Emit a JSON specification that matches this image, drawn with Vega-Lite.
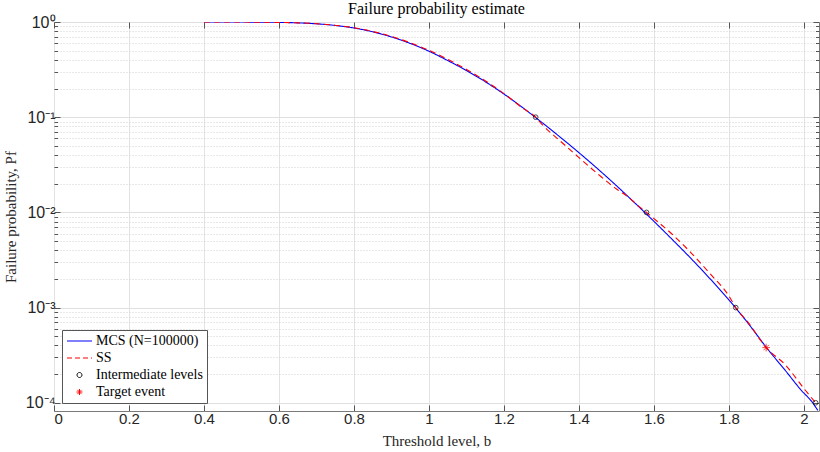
{
  "$schema": "https://vega.github.io/schema/vega-lite/v6.json",
  "width": 765,
  "height": 389,
  "autosize": {"type": "none"},
  "padding": {"left": 54, "top": 22, "right": 1, "bottom": 41},
  "background": "white",
  "title": {"text": "Failure probability estimate", "font": "Liberation Serif", "fontSize": 16, "fontWeight": "normal", "color": "#000000", "offset": -3, "anchor": "middle"},
  "config": {"view": {"stroke": "#7a7a7a", "strokeWidth": 1}},
  "datasets": {
    "curves": [
      {"series": "MCS (N=100000)", "b": 0.40, "P": 1.0},
      {"series": "MCS (N=100000)", "b": 0.45, "P": 0.99977},
      {"series": "MCS (N=100000)", "b": 0.50, "P": 0.99885},
      {"series": "MCS (N=100000)", "b": 0.55, "P": 0.99655},
      {"series": "MCS (N=100000)", "b": 0.60, "P": 0.99083},
      {"series": "MCS (N=100000)", "b": 0.65, "P": 0.97949},
      {"series": "MCS (N=100000)", "b": 0.70, "P": 0.95719},
      {"series": "MCS (N=100000)", "b": 0.75, "P": 0.92045},
      {"series": "MCS (N=100000)", "b": 0.80, "P": 0.86497},
      {"series": "MCS (N=100000)", "b": 0.85, "P": 0.78886},
      {"series": "MCS (N=100000)", "b": 0.90, "P": 0.69663},
      {"series": "MCS (N=100000)", "b": 0.95, "P": 0.59566},
      {"series": "MCS (N=100000)", "b": 1.00, "P": 0.49317},
      {"series": "MCS (N=100000)", "b": 1.05, "P": 0.39355},
      {"series": "MCS (N=100000)", "b": 1.10, "P": 0.30903},
      {"series": "MCS (N=100000)", "b": 1.15, "P": 0.23605},
      {"series": "MCS (N=100000)", "b": 1.20, "P": 0.17498},
      {"series": "MCS (N=100000)", "b": 1.25, "P": 0.12589},
      {"series": "MCS (N=100000)", "b": 1.30, "P": 0.08872},
      {"series": "MCS (N=100000)", "b": 1.35, "P": 0.06166},
      {"series": "MCS (N=100000)", "b": 1.40, "P": 0.04236},
      {"series": "MCS (N=100000)", "b": 1.45, "P": 0.02864},
      {"series": "MCS (N=100000)", "b": 1.50, "P": 0.01905},
      {"series": "MCS (N=100000)", "b": 1.55, "P": 0.01245},
      {"series": "MCS (N=100000)", "b": 1.60, "P": 0.00804},
      {"series": "MCS (N=100000)", "b": 1.65, "P": 0.00513},
      {"series": "MCS (N=100000)", "b": 1.70, "P": 0.00324},
      {"series": "MCS (N=100000)", "b": 1.75, "P": 0.00200},
      {"series": "MCS (N=100000)", "b": 1.80, "P": 0.00120},
      {"series": "MCS (N=100000)", "b": 1.85, "P": 0.000692},
      {"series": "MCS (N=100000)", "b": 1.90, "P": 0.000380},
      {"series": "MCS (N=100000)", "b": 1.95, "P": 0.000219},
      {"series": "MCS (N=100000)", "b": 2.00, "P": 0.000126},
      {"series": "MCS (N=100000)", "b": 2.01, "P": 0.000115},
      {"series": "MCS (N=100000)", "b": 2.02, "P": 0.000104},
      {"series": "MCS (N=100000)", "b": 2.03, "P": 0.0000912},
      {"series": "MCS (N=100000)", "b": 2.037, "P": 0.0000832},
      {"series": "SS", "b": 0.40, "P": 1.0},
      {"series": "SS", "b": 0.50, "P": 0.99885},
      {"series": "SS", "b": 0.60, "P": 0.99083},
      {"series": "SS", "b": 0.70, "P": 0.9590},
      {"series": "SS", "b": 0.80, "P": 0.8690},
      {"series": "SS", "b": 0.85, "P": 0.7950},
      {"series": "SS", "b": 0.90, "P": 0.7050},
      {"series": "SS", "b": 0.95, "P": 0.6050},
      {"series": "SS", "b": 1.00, "P": 0.5035},
      {"series": "SS", "b": 1.05, "P": 0.4046},
      {"series": "SS", "b": 1.10, "P": 0.3177},
      {"series": "SS", "b": 1.15, "P": 0.2410},
      {"series": "SS", "b": 1.20, "P": 0.1770},
      {"series": "SS", "b": 1.25, "P": 0.1245},
      {"series": "SS", "b": 1.2845, "P": 0.1},
      {"series": "SS", "b": 1.30, "P": 0.0851},
      {"series": "SS", "b": 1.35, "P": 0.0562},
      {"series": "SS", "b": 1.40, "P": 0.0376},
      {"series": "SS", "b": 1.45, "P": 0.0254},
      {"series": "SS", "b": 1.50, "P": 0.0176},
      {"series": "SS", "b": 1.53, "P": 0.01462},
      {"series": "SS", "b": 1.55, "P": 0.01245},
      {"series": "SS", "b": 1.58, "P": 0.01},
      {"series": "SS", "b": 1.60, "P": 0.0086},
      {"series": "SS", "b": 1.65, "P": 0.00582},
      {"series": "SS", "b": 1.70, "P": 0.00372},
      {"series": "SS", "b": 1.75, "P": 0.00226},
      {"series": "SS", "b": 1.80, "P": 0.00132},
      {"series": "SS", "b": 1.818, "P": 0.001},
      {"series": "SS", "b": 1.85, "P": 0.000708},
      {"series": "SS", "b": 1.899, "P": 0.000380},
      {"series": "SS", "b": 1.95, "P": 0.000251},
      {"series": "SS", "b": 2.00, "P": 0.000141},
      {"series": "SS", "b": 2.031, "P": 0.0001}
    ],
    "levels": [
      {"b": 1.2845, "P": 0.1},
      {"b": 1.58, "P": 0.01},
      {"b": 1.818, "P": 0.001},
      {"b": 2.031, "P": 0.0001}
    ],
    "target": [
      {"b": 1.899, "P": 0.00038}
    ]
  },
  "layer": [
    {
      "data": {"name": "curves"},
      "mark": {"type": "line", "strokeWidth": 1.1, "interpolate": "monotone", "clip": true},
      "encoding": {
        "x": {
          "field": "b", "type": "quantitative",
          "scale": {"domain": [0, 2.04], "nice": false, "zero": false},
          "axis": {
            "orient": "bottom",
            "values": [0, 0.2, 0.4, 0.6, 0.8, 1, 1.2, 1.4, 1.6, 1.8, 2],
            "format": "~g",
            "grid": true, "gridColor": "#e3e3e3", "gridWidth": 1,
            "domain": false,
            "tickSize": -6, "tickColor": "#555555",
            "labelFont": "Liberation Sans", "labelFontSize": 15, "labelColor": "#262626", "labelPadding": 6,
            "labelOverlap": false,
            "title": "Threshold level, b", "titleFont": "Liberation Serif", "titleFontSize": 15, "titleFontWeight": "normal", "titleColor": "#262626", "titlePadding": 7
          }
        },
        "y": {
          "field": "P", "type": "quantitative",
          "scale": {"type": "log", "domain": [0.000082, 1], "nice": false},
          "axis": {
            "orient": "left",
            "values": [0.0001, 0.0002, 0.0003, 0.0004, 0.0005, 0.0006, 0.0007, 0.0008, 0.0009, 0.001, 0.002, 0.003, 0.004, 0.005, 0.006, 0.007, 0.008, 0.009, 0.01, 0.02, 0.03, 0.04, 0.05, 0.06, 0.07, 0.08, 0.09, 0.1, 0.2, 0.3, 0.4, 0.5, 0.6, 0.7, 0.8, 0.9, 1],
            "labelExpr": "datum.value == 1 ? '10⁰' : datum.value == 0.1 ? '10⁻¹' : datum.value == 0.01 ? '10⁻²' : datum.value == 0.001 ? '10⁻³' : datum.value == 0.0001 ? '10⁻⁴' : ''",
            "grid": true,
            "gridColor": {"condition": {"test": "indexof([1, 0.1, 0.01, 0.001, 0.0001], datum.value) >= 0", "value": "#e0e0e0"}, "value": "#d0d0d0"},
            "gridDash": {"condition": {"test": "indexof([1, 0.1, 0.01, 0.001, 0.0001], datum.value) >= 0", "value": []}, "value": [1, 2]},
            "domain": false,
            "tickSize": {"condition": {"test": "indexof([1, 0.1, 0.01, 0.001, 0.0001], datum.value) >= 0", "value": -6}, "value": -3.5},
            "tickColor": "#555555",
            "labelFont": "Liberation Sans", "labelFontSize": 16, "labelColor": "#262626", "labelPadding": 5,
            "labelOverlap": false, "labelBound": false,
            "title": "Failure probability, Pf", "titleFont": "Liberation Serif", "titleFontSize": 15, "titleFontWeight": "normal", "titleColor": "#262626", "titlePadding": 7
          }
        },
        "color": {
          "field": "series", "type": "nominal",
          "scale": {"domain": ["MCS (N=100000)", "SS", "Intermediate levels", "Target event"], "range": ["#0000ff", "#ff0000", "#000000", "#ff0000"]},
          "legend": {
            "orient": "bottom-left", "offset": 8, "title": null,
            "fillColor": "white", "strokeColor": "#555555", "padding": 4,
            "labelFont": "Liberation Serif", "labelFontSize": 14, "labelColor": "#000000",
            "rowPadding": 3, "symbolSize": 144, "symbolStrokeWidth": 1, "labelOffset": 16,
            "encode": {
              "symbols": {
                "update": {
                  "shape": {"signal": "datum.value === 'Target event' ? 'M0.58,0L1.58,0M1.08,-0.5L1.08,0.5M0.73,-0.35L1.43,0.35M0.73,0.35L1.43,-0.35' : datum.value === 'Intermediate levels' ? 'M1.5,0L1.444,0.21L1.29,0.364L1.08,0.42L0.87,0.364L0.716,0.21L0.66,0L0.716,-0.21L0.87,-0.364L1.08,-0.42L1.29,-0.364L1.444,-0.21Z' : 'M-1,0L3.17,0'"},
                  "size": {"value": 144},
                  "strokeDash": {"signal": "datum.value === 'SS' ? [5, 3] : [1, 0]"},
                  "fill": {"value": "transparent"},
                  "stroke": {"signal": "datum.value === 'MCS (N=100000)' ? '#0000ff' : datum.value === 'Intermediate levels' ? '#000000' : '#ff0000'"},
                  "strokeWidth": {"value": 1}
                }
              }
            }
          }
        },
        "strokeDash": {
          "field": "series", "type": "nominal",
          "scale": {"domain": ["MCS (N=100000)", "SS"], "range": [[1, 0], [6, 4]]},
          "legend": null
        },
        "order": {"field": "b", "type": "quantitative"}
      }
    },
    {
      "data": {"name": "levels"},
      "mark": {"type": "point", "shape": "circle", "filled": false, "color": "#000000", "size": 22, "strokeWidth": 1},
      "encoding": {
        "x": {
          "field": "b", "type": "quantitative",
          "axis": {"orient": "top", "values": [0, 0.2, 0.4, 0.6, 0.8, 1, 1.2, 1.4, 1.6, 1.8, 2], "labels": false, "grid": false, "domain": false, "tickSize": -6, "tickColor": "#555555", "title": null}
        },
        "y": {
          "field": "P", "type": "quantitative",
          "axis": {
            "orient": "right",
            "values": [0.0001, 0.0002, 0.0003, 0.0004, 0.0005, 0.0006, 0.0007, 0.0008, 0.0009, 0.001, 0.002, 0.003, 0.004, 0.005, 0.006, 0.007, 0.008, 0.009, 0.01, 0.02, 0.03, 0.04, 0.05, 0.06, 0.07, 0.08, 0.09, 0.1, 0.2, 0.3, 0.4, 0.5, 0.6, 0.7, 0.8, 0.9, 1],
            "labels": false, "grid": false, "domain": false,
            "tickSize": {"condition": {"test": "indexof([1, 0.1, 0.01, 0.001, 0.0001], datum.value) >= 0", "value": -6}, "value": -3.5},
            "tickColor": "#555555", "title": null
          }
        }
      }
    },
    {
      "data": {"name": "target"},
      "mark": {"type": "point", "shape": "M-1,0L1,0M0,-1L0,1M-0.7,-0.7L0.7,0.7M-0.7,0.7L0.7,-0.7", "filled": false, "color": "#ff0000", "size": 60, "strokeWidth": 1},
      "encoding": {
        "x": {"field": "b", "type": "quantitative", "axis": null},
        "y": {"field": "P", "type": "quantitative", "axis": null}
      }
    }
  ],
  "resolve": {"axis": {"x": "independent", "y": "independent"}}
}
